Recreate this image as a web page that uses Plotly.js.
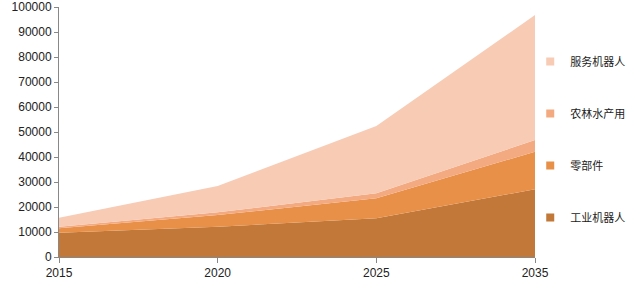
<!DOCTYPE html>
<html><head><meta charset="utf-8">
<script src="https://cdn.plot.ly/plotly-3.0.1.min.js"></script>
<style>html,body{margin:0;padding:0;background:#fff}#chart{width:640px;height:282px}</style>
</head><body><div id="chart"></div>
<script>
const years = ['2015', '2020', '2025', '2035'];
const industrial = [9700, 12100, 15500, 27100];
const components = [1800, 4700, 8000, 15000];
const agriculture = [600, 1100, 2000, 4700];
const service = [3600, 10500, 26900, 50000];
const names = ['工业机器人', '零部件', '农林水产用', '服务机器人'];
const colors = ['#C27838', '#E88F48', '#F4AA80', '#F8CBB5'];
const series = [industrial, components, agriculture, service];

const traces = [];
series.forEach((s, i) => {
  traces.push({
    x: years, y: s, type: 'scatter', mode: 'none', stackgroup: 'one',
    fill: 'tonexty', fillcolor: colors[i], line: {width: 0},
    showlegend: false, hoverinfo: 'skip', name: names[i]
  });
});
for (let i = series.length - 1; i >= 0; i--) {
  traces.push({
    x: [null], y: [null], type: 'scatter', mode: 'markers', name: names[i],
    legendgroup: 'g' + i,
    marker: {symbol: 'square', size: 8, color: colors[i]}, showlegend: true
  });
}

const layout = {
  width: 640, height: 282,
  margin: {l: 59, r: 105, t: 7, b: 25, pad: 0},
  paper_bgcolor: '#fff', plot_bgcolor: '#fff',
  font: {family: 'Liberation Sans, Arial, sans-serif', size: 12, color: '#222'},
  xaxis: {
    type: 'category', range: [0, 3], showgrid: false, zeroline: false,
    showline: true, linecolor: '#888', linewidth: 1,
    ticks: 'outside', ticklen: 5, tickcolor: '#888',
    tickfont: {size: 12, color: '#222'}
  },
  yaxis: {
    range: [0, 100000], dtick: 10000, tickformat: 'd', showgrid: false, zeroline: false,
    showline: true, linecolor: '#888', linewidth: 1,
    ticks: 'outside', ticklen: 4, tickcolor: '#888',
    tickfont: {size: 12, color: '#222'}
  },
  legend: {
    x: 0.99, xanchor: 'left', xref: 'paper', y: 0.84, yanchor: 'top',
    traceorder: 'grouped', tracegroupgap: 33,
    font: {family: 'Noto Sans CJK SC, sans-serif', size: 11, color: '#222'},
    bgcolor: 'rgba(0,0,0,0)', itemwidth: 30
  },
  showlegend: true
};
Plotly.newPlot('chart', traces, layout, {displayModeBar: false, staticPlot: true});
</script></body></html>
